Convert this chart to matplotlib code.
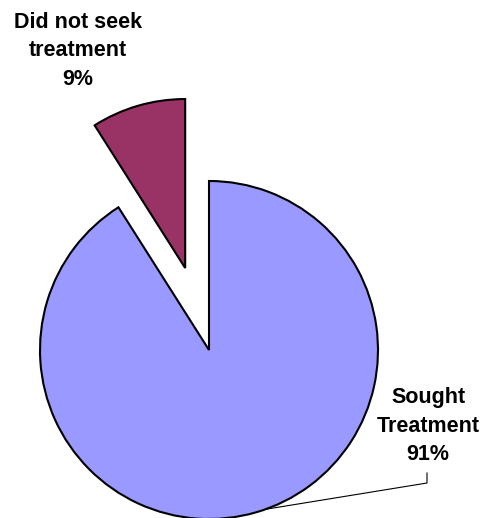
import numpy as np
import matplotlib
matplotlib.use("Agg")
import matplotlib.pyplot as plt

labels = ["Sought\nTreatment", "Did not seek\ntreatment"]
values = [91, 9]
colors = ["#9999FF", "#993366"]
explode = [0.0, 0.505]

W, H = 482, 518
fig = plt.figure(figsize=(W / 100, H / 100), dpi=100)
ax = fig.add_axes([0, 0, 1, 1])

cx, cy, r = 209, 168, 169
# pie offsets wedges by the explode value in data units, so scale by the radius
wedges, _ = ax.pie(values, colors=colors, explode=[e * r for e in explode],
                   startangle=90, counterclock=False, center=(cx, cy), radius=r,
                   wedgeprops=dict(edgecolor="black", linewidth=1.5),
                   frame=True)
ax.set_xlim(0, W)
ax.set_ylim(0, H)
ax.axis("off")

font = dict(family=["Liberation Sans", "DejaVu Sans"], fontsize=15.5,
            fontweight="bold", ha="center", va="center", linespacing=1.48)

ax.text(78, H - 51, f"{labels[1]}\n{values[1]}%", **font)
ax.text(428, H - 426, f"{labels[0]}\n{values[0]}%", **font)

# leader line from the label to the rim of the large slice
ang = np.deg2rad(-70.5)
ex, ey = cx + r * np.cos(ang), cy + r * np.sin(ang)
ax.plot([427, 427, ex], [H - 473, H - 483, ey], color="black", lw=0.8)

fig.savefig("out.png", dpi=100)
